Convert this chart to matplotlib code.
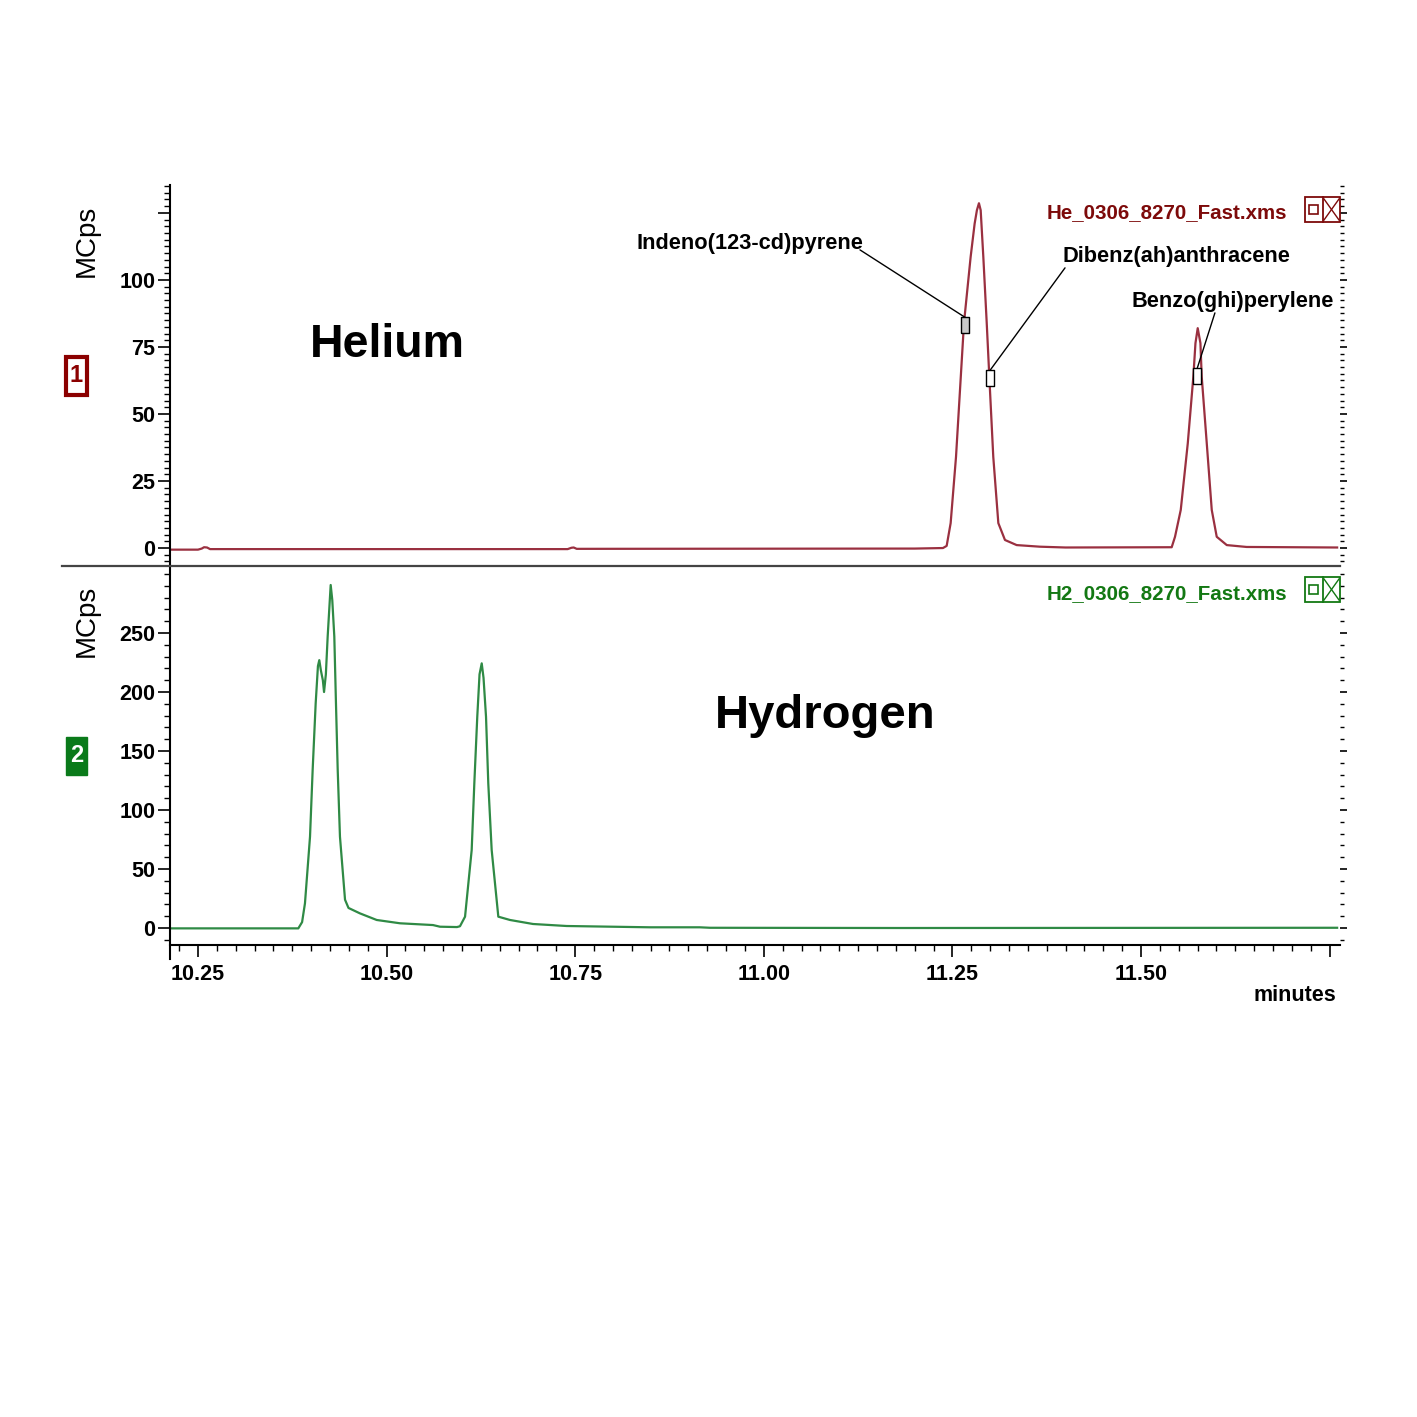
import numpy as np
import matplotlib
matplotlib.use("Agg")
import matplotlib.pyplot as plt
from matplotlib.ticker import MultipleLocator, FixedLocator
from matplotlib.patches import Rectangle
from matplotlib.lines import Line2D

plt.rcParams['font.family'] = ['Liberation Sans', 'DejaVu Sans']

# chromatogram traces (minutes, MCps)
he_time = [10.213, 10.250, 10.255, 10.258, 10.262, 10.266, 10.740, 10.745, 10.748,
           10.752, 11.200, 11.2375, 11.2424, 11.2477, 11.2548, 11.2654, 11.2742,
           11.2795, 11.2825, 11.2852, 11.2875, 11.291, 11.2955, 11.2998, 11.3042, 11.3109,
           11.3197, 11.3352, 11.3661, 11.400, 11.5407, 11.5451, 11.5527, 11.562,
           11.5694, 11.5722, 11.5752, 11.5788, 11.5805, 11.5872, 11.5938, 11.6004,
           11.6137, 11.640, 11.760]
he_mcps = [-0.6, -0.6, -0.2, 0.3, 0.2, -0.4, -0.4, 0.1, 0.2,
           -0.3, -0.2, 0.0, 0.8, 9.3, 34.0, 84.0, 108.6,
           121.0, 126.0, 128.6, 126.0, 108.6, 84.0, 59.0, 34.0, 9.3,
           3.0, 1.1, 0.5, 0.2, 0.3, 4.2, 14.2, 39.0,
           63.9, 76.4, 82.0, 76.4, 63.9, 39.0, 14.2, 4.2,
           1.1, 0.4, 0.2]

h2_time = [10.213, 10.383, 10.388, 10.3918, 10.3985, 10.402, 10.406, 10.409, 10.4108,
           10.413, 10.4155, 10.4171, 10.4195, 10.4219, 10.424, 10.4259, 10.428,
           10.4307, 10.4329, 10.4352, 10.4382, 10.4449, 10.4495, 10.4647, 10.4869, 10.5178,
           10.5615, 10.5708, 10.5933, 10.5973, 10.604, 10.6128, 10.6163, 10.6202,
           10.6232, 10.6261, 10.6285, 10.6318, 10.6348, 10.6393, 10.6481, 10.6636,
           10.6941, 10.7387, 10.8492, 10.915, 10.9287, 11.180, 11.760]
h2_mcps = [-0.3, -0.3, 5.0, 20.9, 77.4, 134.0, 190.4, 222.0, 227.0,
           218.0, 210.0, 200.0, 215.0, 247.0, 270.0, 290.7, 278.0,
           247.0, 190.4, 134.0, 77.4, 24.0, 17.0, 12.4, 6.8, 4.0,
           2.5, 1.1, 0.8, 1.5, 9.6, 66.1, 122.6, 179.0,
           215.0, 224.3, 212.0, 179.0, 122.6, 66.1, 9.6, 6.8,
           3.4, 1.7, 0.6, 0.6, 0.2, 0.0, 0.2]

# peak labels on the helium trace
peak_names = ["Indeno(123-cd)pyrene", "Dibenz(ah)anthracene", "Benzo(ghi)perylene"]
peak_time = [11.267, 11.3005, 11.5745]
peak_mcps = [83.0, 63.5, 64.0]
label_time = [10.9817, 11.3953, 11.488]
label_mcps = [111.6, 106.7, 89.9]
label_ha = ["center", "left", "left"]
leader_time = [11.1275, 11.3993, 11.598]
leader_mcps = [111.2, 104.5, 87.7]
marker_fill = ["#c8c8c8", "white", "white"]

x_major = [10.25, 10.50, 10.75, 11.00, 11.25, 11.50, 11.75]
x_labels = ["10.25", "10.50", "10.75", "11.00", "11.25", "11.50", ""]

RED_LINE = "#9a3040"
RED_TEXT = "#7d0a0a"
GREEN_LINE = "#2f8a45"
GREEN_TEXT = "#137813"

W = 1417.0


def fx(px):
    return px / W


def fy(py):
    return 1 - py / W


fig = plt.figure(figsize=(14.17, 14.17), dpi=100)
ax1 = fig.add_axes([fx(170), fy(566), fx(1340) - fx(170), fy(185) - fy(566)])
ax2 = fig.add_axes([fx(170), fy(945), fx(1340) - fx(170), fy(566) - fy(945)])

ax1.plot(he_time, he_mcps, color=RED_LINE, lw=1.6)
ax2.plot(h2_time, h2_mcps, color=GREEN_LINE, lw=1.6)

xlim = (10.2129, 11.7638)
for ax in (ax1, ax2):
    ax.set_xlim(*xlim)
    ax.spines['top'].set_visible(False)
    ax.spines['right'].set_visible(False)
    ax.spines['left'].set_linewidth(1.5)
    ax.spines['bottom'].set_linewidth(1.5)
    ax.tick_params(axis='y', which='major', length=8.5, width=1.2, pad=2,
                   labelsize=15.5, right=True)
    ax.tick_params(axis='y', which='minor', length=4.5, width=1.0, right=True)

ax1.set_ylim(-6.7, 135.4)
ax1.set_yticks([0, 25, 50, 75, 100, 125], ["0", "25", "50", "75", "100", ""])
ax1.yaxis.set_minor_locator(MultipleLocator(2.5))
ax1.set_xticks([])
ax1.spines['bottom'].set_visible(False)

ax2.set_ylim(-14.4, 306.8)
ax2.set_yticks([0, 50, 100, 150, 200, 250], ["0", "50", "100", "150", "200", "250"])
ax2.yaxis.set_minor_locator(MultipleLocator(10))
ax2.set_xticks(x_major, x_labels)
ax2.xaxis.set_minor_locator(MultipleLocator(0.025))
ax2.tick_params(axis='x', which='major', length=8.5, width=1.2, pad=5, labelsize=15.5)
ax2.tick_params(axis='x', which='minor', length=4, width=1.0)
# left axis runs a little below the time axis
ax2.spines['left'].set_bounds(-26, 306.8)

for ax in (ax1, ax2):
    for lab in ax.get_yticklabels() + ax.get_xticklabels():
        lab.set_fontweight('bold')
    # right side ticks are short dashes
    for t in ax.yaxis.get_ticklines(minor=False)[1::2]:
        t.set_markersize(5)
    for t in ax.yaxis.get_ticklines(minor=True)[1::2]:
        t.set_markersize(3)

# peak markers and leader lines
box = [(-0.5, -1), (0.5, -1), (0.5, 1), (-0.5, 1), (-0.5, -1)]
for i in range(len(peak_names)):
    ax1.plot([peak_time[i]], [peak_mcps[i]], marker=box, markersize=12,
             markerfacecolor=marker_fill[i], markeredgecolor='black', mew=1.0,
             linestyle='none', zorder=4)
    ax1.annotate('', xy=(peak_time[i], peak_mcps[i] + 3),
                 xytext=(leader_time[i], leader_mcps[i]),
                 arrowprops=dict(arrowstyle='-', color='black', lw=1.0,
                                 shrinkA=0, shrinkB=0))
    ax1.text(label_time[i], label_mcps[i], peak_names[i], ha=label_ha[i],
             va='baseline', fontsize=15.7, fontweight='bold')

# big labels
ax1.text(10.3985, 71.3, "Helium", fontsize=33.5, fontweight='bold', va='baseline')
ax2.text(10.9353, 169.5, "Hydrogen", fontsize=34, fontweight='bold', va='baseline')

# file names
ax1.text(11.6935, 123.1, "He_0306_8270_Fast.xms", color=RED_TEXT, ha='right',
         va='baseline', fontsize=14.8, fontweight='bold')
ax2.text(11.6935, 278.8, "H2_0306_8270_Fast.xms", color=GREEN_TEXT, ha='right',
         va='baseline', fontsize=14.8, fontweight='bold')

ax2.text(0.9965, -0.132, "minutes", transform=ax2.transAxes, ha='right', va='center',
         fontsize=15.5, fontweight='bold')

# y axis titles
fig.text(fx(87), fy(241), "MCps", rotation=90, ha='center', va='center', fontsize=20)
fig.text(fx(87), fy(621), "MCps", rotation=90, ha='center', va='center', fontsize=20)

# divider between the two traces
fig.add_artist(Line2D([fx(62), fx(1340)], [fy(566), fy(566)], color='#444444', lw=1.6))


def window_icons(top, color):
    # little square / close icons at the top right of each trace
    fig.add_artist(Rectangle((fx(1305), fy(top + 25)), fx(35), fx(25), fill=False,
                             edgecolor=color, lw=1.3, transform=fig.transFigure))
    fig.add_artist(Line2D([fx(1323), fx(1323)], [fy(top), fy(top + 25)], color=color, lw=1.3))
    fig.add_artist(Rectangle((fx(1309), fy(top + 17)), fx(9), fx(9), fill=False,
                             edgecolor=color, lw=1.2, transform=fig.transFigure))
    fig.add_artist(Line2D([fx(1324), fx(1339)], [fy(top + 2), fy(top + 23)], color=color, lw=1.0))
    fig.add_artist(Line2D([fx(1324), fx(1339)], [fy(top + 23), fy(top + 2)], color=color, lw=1.0))


window_icons(197, RED_TEXT)
window_icons(577, GREEN_TEXT)

# trace number badges
fig.add_artist(Rectangle((fx(66), fy(395)), fx(21), fx(38), facecolor='white',
                         edgecolor='#8b0000', lw=3, transform=fig.transFigure))
fig.text(fx(76.5), fy(376), "1", color='#8b0000', ha='center', va='center',
         fontsize=17, fontweight='bold')
fig.add_artist(Rectangle((fx(66), fy(775)), fx(21), fx(38), facecolor='#0a7a1a',
                         edgecolor='#0a7a1a', lw=1, transform=fig.transFigure))
fig.text(fx(76.5), fy(756), "2", color='white', ha='center', va='center',
         fontsize=17, fontweight='bold')

fig.savefig("out.png", dpi=100)
